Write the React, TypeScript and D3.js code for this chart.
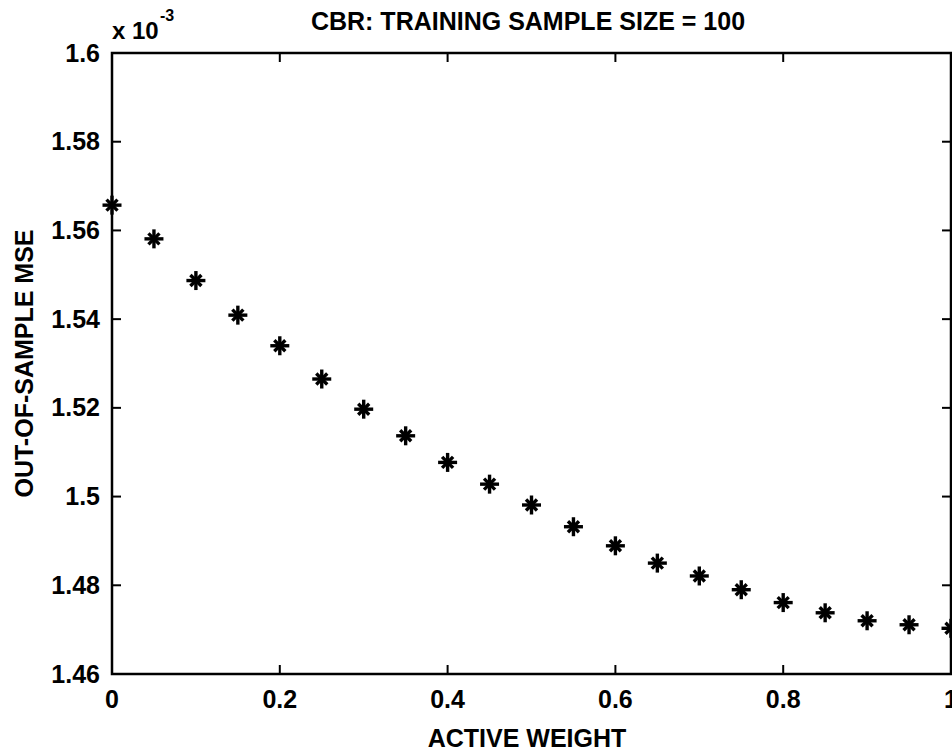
import React from "react";
import * as d3 from "d3";

const activeWeight = [0, 0.05, 0.1, 0.15, 0.2, 0.25, 0.3, 0.35, 0.4, 0.45, 0.5, 0.55, 0.6, 0.65, 0.7, 0.75, 0.8, 0.85, 0.9, 0.95, 1.0];
const mse = [1.5657, 1.5581, 1.5487, 1.5409, 1.5340, 1.5265, 1.5197, 1.5137, 1.5077, 1.5028, 1.4981, 1.4932, 1.4889, 1.4850, 1.4821, 1.4790, 1.4761, 1.4738, 1.4720, 1.4711, 1.4703];
const xTicks = [0, 0.2, 0.4, 0.6, 0.8, 1];
const yTicks = [1.46, 1.48, 1.5, 1.52, 1.54, 1.56, 1.58, 1.6];
const title = "CBR: TRAINING SAMPLE SIZE = 100";
const xLabel = "ACTIVE WEIGHT";
const yLabel = "OUT-OF-SAMPLE MSE";

const W = 952;
const H = 751;
const M = { left: 112, right: 951, top: 53, bottom: 674 };
const FONT = "'Liberation Sans', Arial, Helvetica, sans-serif";
const FS = 25;

export default function App() {
  const x = d3.scaleLinear().domain([0, 1]).range([M.left, M.right]);
  const y = d3.scaleLinear().domain([1.46, 1.6]).range([M.bottom, M.top]);
  const fmt = (v: number) => String(+v.toFixed(2));
  const tl = 9;
  return (
    <svg width={W} height={H} style={{ position: "absolute", left: 0, top: 0, background: "#fff" }} fontFamily={FONT} fontWeight="bold">
      <rect x={0} y={0} width={W} height={H} fill="#fff" />
      {/* ticks */}
      {xTicks.map((t) => (
        <g key={"x" + t} stroke="#000" strokeWidth={2}>
          <line x1={x(t)} x2={x(t)} y1={M.bottom} y2={M.bottom - tl} />
          <line x1={x(t)} x2={x(t)} y1={M.top} y2={M.top + tl} />
        </g>
      ))}
      {yTicks.map((t) => (
        <g key={"y" + t} stroke="#000" strokeWidth={2}>
          <line x1={M.left} x2={M.left + tl} y1={y(t)} y2={y(t)} />
          <line x1={M.right} x2={M.right - tl} y1={y(t)} y2={y(t)} />
        </g>
      ))}
      <rect x={M.left} y={M.top} width={M.right - M.left} height={M.bottom - M.top} fill="none" stroke="#000" strokeWidth={2.5} />
      {/* tick labels */}
      {xTicks.map((t) => (
        <text key={"xl" + t} x={x(t)} y={708} textAnchor="middle" fontSize={FS}>{fmt(t)}</text>
      ))}
      {yTicks.map((t) => (
        <text key={"yl" + t} x={100} y={y(t) + 8.5} textAnchor="end" fontSize={FS}>{fmt(t)}</text>
      ))}
      {/* exponent */}
      <text x={112} y={39} fontSize={24}>x 10</text>
      <text x={160} y={21} fontSize={16}>-3</text>
      {/* title */}
      <text x={528} y={30} textAnchor="middle" fontSize={FS}>{title}</text>
      <text x={527} y={747} textAnchor="middle" fontSize={FS}>{xLabel}</text>
      <text transform={`translate(33,${(M.top + M.bottom) / 2}) rotate(-90)`} textAnchor="middle" fontSize={FS}>{yLabel}</text>
      {/* markers */}
      {activeWeight.map((w, i) => {
        const cx = x(w);
        const cy = y(mse[i]);
        return (
          <g key={"m" + i} stroke="#000" strokeWidth={3.4} strokeLinecap="butt">
            <line x1={cx - 9.5} x2={cx + 9.5} y1={cy} y2={cy} />
            <line x1={cx} x2={cx} y1={cy - 9.5} y2={cy + 9.5} />
            <line x1={cx - 5.5} x2={cx + 5.5} y1={cy - 5.5} y2={cy + 5.5} />
            <line x1={cx - 5.5} x2={cx + 5.5} y1={cy + 5.5} y2={cy - 5.5} />
          </g>
        );
      })}
    </svg>
  );
}
